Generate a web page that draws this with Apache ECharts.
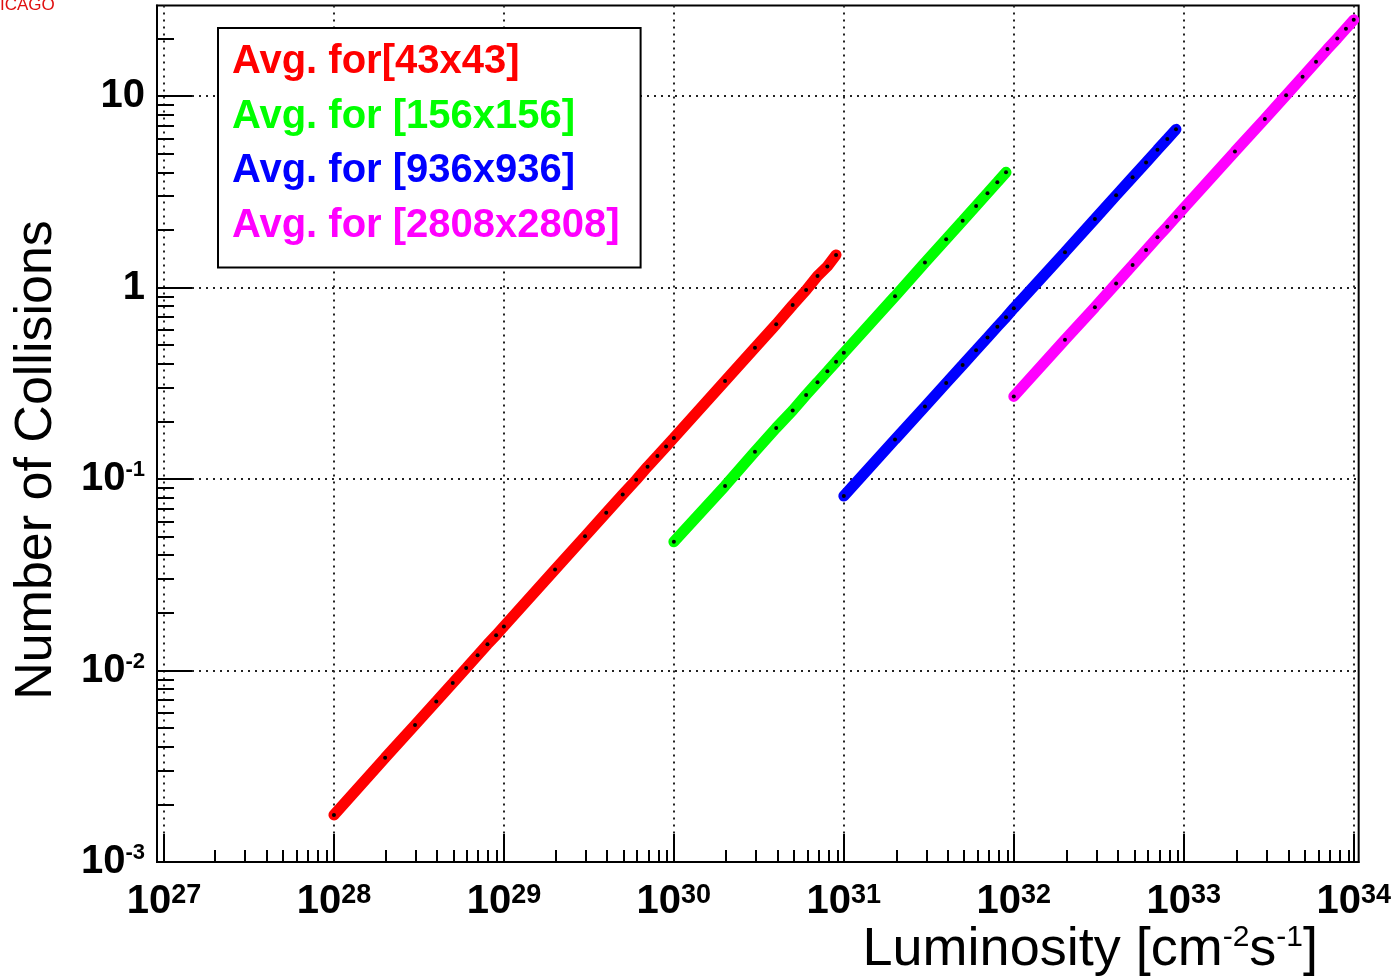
<!DOCTYPE html>
<html><head><meta charset="utf-8">
<script src="https://cdn.jsdelivr.net/npm/echarts@6/dist/echarts.min.js"></script>
<style>html,body{margin:0;padding:0;background:#fff}#c{width:1394px;height:980px}</style>
</head><body><div id="c"></div>
<script>
// ---- data ----
const seriesNames = ['Avg. for[43x43]', 'Avg. for [156x156]', 'Avg. for [936x936]', 'Avg. for [2808x2808]'];
const seriesColors = ['#ff0000', '#00ff00', '#0000ff', '#ff00ff'];

const redLum = [1e28,2e28,3e28,4e28,5e28,6e28,7e28,8e28,9e28,
                1e29,2e29,3e29,4e29,5e29,6e29,7e29,8e29,9e29,
                1e30,2e30,3e30,4e30,5e30,6e30,7e30,8e30,9e30];
const redVal = [0.00176,0.0035,0.0052,0.0069,0.0086,0.0103,0.0120,0.0137,0.0153,
                0.0170,0.0337,0.0502,0.0667,0.083,0.099,0.116,0.132,0.148,
                0.164,0.325,0.485,0.643,0.81,0.97,1.15,1.29,1.48];

const greenLum = [1e30,2e30,3e30,4e30,5e30,6e30,7e30,8e30,9e30,
                  1e31,2e31,3e31,4e31,5e31,6e31,7e31,8e31,9e31];
const greenVal = [0.047,0.092,0.139,0.185,0.228,0.275,0.32,0.365,0.41,
                  0.456,0.90,1.35,1.79,2.23,2.67,3.11,3.55,4.0];

const blueLum = [1e31,2e31,3e31,4e31,5e31,6e31,7e31,8e31,9e31,
                 1e32,2e32,3e32,4e32,5e32,6e32,7e32,8e32,9e32];
const blueVal = [0.0815,0.161,0.239,0.317,0.394,0.471,0.548,0.625,0.70,
                 0.78,1.53,2.28,3.03,3.77,4.50,5.24,5.97,6.7];

const magLum = [1e32,2e32,3e32,4e32,5e32,6e32,7e32,8e32,9e32,
                1e33,2e33,3e33,4e33,5e33,6e33,7e33,8e33,9e33,1e34];
const magVal = [0.27,0.534,0.79,1.05,1.31,1.57,1.83,2.08,2.34,
                2.60,5.13,7.6,10.1,12.6,15.1,17.6,20.0,22.5,25.0];

// tick values
const xMajorTicks = [1e27,1e28,1e29,1e30,1e31,1e32,1e33,1e34];
const yMajorTicks = [1e-3,1e-2,1e-1,1,10];
const minorMultipliers = [2,3,4,5,6,7,8,9];

// ---- build ----
const lums = [redLum, greenLum, blueLum, magLum];
const vals = [redVal, greenVal, blueVal, magVal];
const X_MIN = Math.pow(10, 26.959), X_MAX = Math.pow(10, 34.029);
const Y_MIN = 1e-3, Y_MAX = Math.pow(10, 1.473);

function minors(majors, lo, hi) {
  const out = [];
  const first = majors[0] / 10;
  [first].concat(majors).forEach(m => minorMultipliers.forEach(k => {
    const v = m * k; if (v > lo && v < hi) out.push(v);
  }));
  return out;
}
const xMinorTicks = minors(xMajorTicks, X_MIN, X_MAX);
const yMinorTicks = minors(yMajorTicks, Y_MIN, Y_MAX);

const FONT = '"Liberation Sans", Arial, Helvetica, sans-serif';
const gridPos = { left: 157, top: 5.5, width: 1204, height: 856.5 };
const tickStyle = { color: '#000', width: 2 };

const option = {
  animation: false,
  backgroundColor: '#fff',
  grid: [
    Object.assign({ show: true, borderColor: '#000', borderWidth: 2, backgroundColor: 'transparent', containLabel: false }, gridPos),
    Object.assign({ show: false }, gridPos)
  ],
  xAxis: [
    {
      type: 'log', logBase: 10, gridIndex: 0, min: X_MIN, max: X_MAX, position: 'bottom',
      axisLine: { show: true, lineStyle: { color: '#000', width: 2 } },
      axisTick: { show: true, inside: true, length: 28, customValues: xMajorTicks, lineStyle: tickStyle },
      axisLabel: {
        customValues: xMajorTicks, margin: 20,
        formatter: v => '{b|10}{s|' + Math.round(Math.log10(v)) + '}',
        rich: {
          b: { fontFamily: FONT, fontWeight: 'bold', fontSize: 40, color: '#000', lineHeight: 40 },
          s: { fontFamily: FONT, fontWeight: 'bold', fontSize: 27, color: '#000', verticalAlign: 'top', lineHeight: 12 }
        }
      },
      splitLine: { show: true, lineStyle: { color: '#222', width: 2, type: [2, 5] } }
    },
    {
      type: 'log', logBase: 10, gridIndex: 1, min: X_MIN, max: X_MAX, position: 'bottom',
      axisLine: { show: false },
      axisTick: { show: true, inside: true, length: 12, customValues: xMinorTicks, lineStyle: tickStyle },
      axisLabel: { show: false },
      splitLine: { show: false }
    }
  ],
  yAxis: [
    {
      type: 'log', logBase: 10, gridIndex: 0, min: Y_MIN, max: Y_MAX, position: 'left',
      axisLine: { show: true, lineStyle: { color: '#000', width: 2 } },
      axisTick: { show: true, inside: true, length: 35, customValues: yMajorTicks, lineStyle: tickStyle },
      axisLabel: {
        customValues: yMajorTicks, margin: 12,
        formatter: v => {
          const e = Math.round(Math.log10(v));
          if (e === 1) return '{b|10}';
          if (e === 0) return '{b|1}';
          return '{b|10}{s|' + e + '}';
        },
        rich: {
          b: { fontFamily: FONT, fontWeight: 'bold', fontSize: 40, color: '#000', lineHeight: 40 },
          s: { fontFamily: FONT, fontWeight: 'bold', fontSize: 22, color: '#000', verticalAlign: 'top', lineHeight: 18 }
        }
      },
      splitLine: { show: true, lineStyle: { color: '#222', width: 2, type: [2, 5] } }
    },
    {
      type: 'log', logBase: 10, gridIndex: 1, min: Y_MIN, max: Y_MAX, position: 'left',
      axisLine: { show: false },
      axisTick: { show: true, inside: true, length: 17, customValues: yMinorTicks, lineStyle: tickStyle },
      axisLabel: { show: false },
      splitLine: { show: false }
    }
  ],
  legend: {
    orient: 'vertical', left: 218, top: 28,
    icon: 'none', itemWidth: 0, itemHeight: 40, itemGap: 14.5,
    padding: [14, 21, 22, 9],
    backgroundColor: '#fff', borderColor: '#000', borderWidth: 2,
    selectedMode: false,
    textStyle: { fontFamily: FONT, fontWeight: 'bold', fontSize: 40, lineHeight: 40 },
    data: seriesNames.map((n, i) => ({ name: n, textStyle: { color: seriesColors[i] } }))
  },
  series: seriesNames.map((n, i) => ({
    type: 'line', name: n, xAxisIndex: 0, yAxisIndex: 0,
    data: lums[i].map((l, j) => [l, vals[i][j]]),
    symbol: 'circle', symbolSize: 4, showSymbol: true, showAllSymbol: true,
    itemStyle: { color: '#000' },
    lineStyle: { color: seriesColors[i], width: 11, cap: 'round' },
    emphasis: { disabled: true },
    z: 3
  })),
  graphic: [
    { type: 'text', x: 0, y: -3, style: { text: 'ICAGO', font: '17px ' + FONT, fill: '#e01010', align: 'left', verticalAlign: 'top' } },
    { type: 'text', x: 37, y: 460, rotation: Math.PI / 2,
      style: { text: 'Number of Collisions', font: '52px ' + FONT, fill: '#000', align: 'center', verticalAlign: 'middle' } },
    { type: 'text', x: 1318, y: 950,
      style: {
        text: '{n|Luminosity [cm}{s|-2}{n|s}{s|-1}{n|]}',
        align: 'right', verticalAlign: 'middle',
        rich: {
          n: { fontFamily: FONT, fontSize: 54, fill: '#000', lineHeight: 54 },
          s: { fontFamily: FONT, fontSize: 30, fill: '#000', verticalAlign: 'top', lineHeight: 30 }
        }
      } }
  ]
};
const chart = echarts.init(document.getElementById('c'), null, { renderer: 'canvas' });
chart.setOption(option);
</script>
</body></html>
